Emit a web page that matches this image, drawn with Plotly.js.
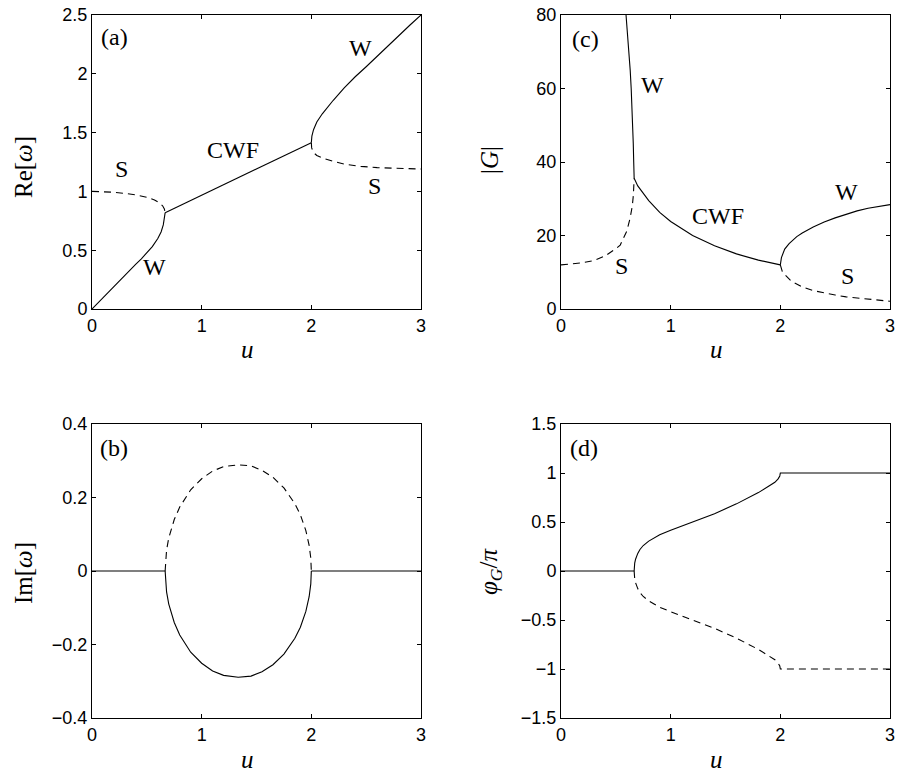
<!DOCTYPE html>
<html>
<head>
<meta charset="utf-8">
<script src="https://cdn.plot.ly/plotly-3.0.1.min.js"></script>
<style>html,body{margin:0;padding:0;background:#fff;}#chart{width:898px;height:772px;}</style>
</head>
<body>
<div id="chart"></div>
<script>
// ---------- Panel (a): Re[omega] ----------
var aW1_u  = [0, 0.1, 0.2, 0.3, 0.4, 0.45, 0.5, 0.55, 0.6, 0.63, 0.65, 0.66, 0.667];
var aW1_re = [0, 0.097, 0.194, 0.29, 0.382, 0.427, 0.475, 0.53, 0.6, 0.655, 0.715, 0.765, 0.819];
var aS1_u  = [0, 0.1, 0.2, 0.3, 0.4, 0.5, 0.57, 0.62, 0.645, 0.66, 0.667];
var aS1_re = [1.0, 0.998, 0.993, 0.983, 0.97, 0.95, 0.927, 0.9, 0.876, 0.85, 0.819];
var aC_u   = [0.667, 1.0, 1.333, 1.667, 2.0];
var aC_re  = [0.819, 0.968, 1.117, 1.266, 1.414];
var aW2_u  = [2.0, 2.005, 2.02, 2.05, 2.1, 2.15, 2.2, 2.3, 2.4, 2.5, 2.6, 2.7, 2.8, 2.9, 3.0];
var aW2_re = [1.414, 1.47, 1.525, 1.59, 1.66, 1.72, 1.775, 1.88, 1.975, 2.06, 2.15, 2.235, 2.33, 2.415, 2.5];
var aS2_u  = [2.0, 2.003, 2.02, 2.05, 2.1, 2.2, 2.3, 2.45, 2.6, 2.8, 3.0];
var aS2_re = [1.414, 1.37, 1.33, 1.305, 1.285, 1.255, 1.232, 1.213, 1.202, 1.195, 1.19];

// ---------- Panel (b): Im[omega] ----------
var bFlat1_u = [0, 0.667];
var bFlat1_im = [0, 0];
var bFlat2_u = [2.0, 3.0];
var bFlat2_im = [0, 0];
var bE_u     = [0.667, 0.67, 0.68, 0.7, 0.75, 0.8, 0.9, 1.0, 1.1, 1.2, 1.333, 1.45, 1.55, 1.65, 1.75, 1.85, 1.9, 1.95, 1.98, 1.995, 2.0];
var bUp_im   = [0, 0.028, 0.057, 0.09, 0.14, 0.174, 0.221, 0.251, 0.272, 0.284, 0.289, 0.286, 0.274, 0.255, 0.226, 0.183, 0.153, 0.11, 0.07, 0.035, 0];
var bLo_im   = [0, -0.028, -0.057, -0.09, -0.14, -0.174, -0.221, -0.251, -0.272, -0.284, -0.289, -0.286, -0.274, -0.255, -0.226, -0.183, -0.153, -0.11, -0.07, -0.035, 0];

// ---------- Panel (c): |G| ----------
var cW1_u = [0.593, 0.607, 0.62, 0.631, 0.64, 0.648, 0.654, 0.659, 0.663, 0.667];
var cW1_g = [80, 75, 70, 65, 60, 55, 50, 45, 40, 35.6];
var cS1_u = [0, 0.1, 0.2, 0.3, 0.4, 0.5, 0.54, 0.6, 0.63, 0.65, 0.66, 0.667];
var cS1_g = [12, 12.2, 12.6, 13.2, 14.4, 16.4, 17.4, 21.2, 24.7, 28, 31, 35.6];
var cC_u  = [0.667, 0.7, 0.8, 0.9, 1.0, 1.2, 1.4, 1.6, 1.8, 2.0];
var cC_g  = [35.6, 33.5, 29.5, 26.3, 23.8, 20.0, 17.2, 15.0, 13.3, 12.0];
var cW2_u = [2.0, 2.01, 2.04, 2.08, 2.15, 2.2, 2.3, 2.4, 2.5, 2.6, 2.7, 2.8, 2.9, 3.0];
var cW2_g = [12.0, 14.0, 16.3, 17.8, 19.7, 20.7, 22.3, 23.7, 24.8, 25.8, 26.7, 27.4, 27.9, 28.4];
var cS2_u = [2.0, 2.02, 2.1, 2.2, 2.3, 2.4, 2.5, 2.6, 2.8, 3.0];
var cS2_g = [12.0, 10.0, 7.6, 6.0, 5.0, 4.3, 3.8, 3.3, 2.7, 2.1];

// ---------- Panel (d): phi_G / pi ----------
var dFlat_u  = [0, 0.667];
var dFlat_p  = [0, 0];
var dB_u     = [0.667, 0.668, 0.672, 0.68, 0.69, 0.7, 0.72, 0.75, 0.8, 0.85, 0.9, 1.0, 1.2, 1.4, 1.6, 1.8, 1.9, 1.95, 1.98, 1.995, 2.0, 3.0];
var dUp_p    = [0, 0.04, 0.08, 0.12, 0.155, 0.18, 0.22, 0.26, 0.305, 0.34, 0.37, 0.415, 0.5, 0.585, 0.685, 0.8, 0.87, 0.905, 0.94, 0.97, 1.0, 1.0];
var dLo_p    = [0, -0.04, -0.08, -0.12, -0.155, -0.18, -0.22, -0.26, -0.305, -0.34, -0.37, -0.415, -0.5, -0.585, -0.685, -0.8, -0.87, -0.905, -0.94, -0.97, -1.0, -1.0];

// ---------- Tick labels ----------
var uTicks = [0, 1, 2, 3];
var aTicks = [0, 0.5, 1, 1.5, 2, 2.5];
var bTicks = [-0.4, -0.2, 0, 0.2, 0.4];
var cTicks = [0, 20, 40, 60, 80];
var dTicks = [-1.5, -1, -0.5, 0, 0.5, 1, 1.5];

var SOLID = {color: '#000', width: 1.1};
var DASH = {color: '#000', width: 1.1, dash: '7px,5px'};
function tr(x, y, xa, ya, line) {
  return {x: x, y: y, xaxis: xa, yaxis: ya, type: 'scatter', mode: 'lines', line: line, hoverinfo: 'none', showlegend: false};
}

var data = [
  tr(aS1_u, aS1_re, 'x', 'y', DASH),
  tr(aW1_u, aW1_re, 'x', 'y', SOLID),
  tr(aC_u, aC_re, 'x', 'y', SOLID),
  tr(aS2_u, aS2_re, 'x', 'y', DASH),
  tr(aW2_u, aW2_re, 'x', 'y', SOLID),

  tr(bE_u, bUp_im, 'x2', 'y2', DASH),
  tr(bE_u, bLo_im, 'x2', 'y2', SOLID),
  tr(bFlat1_u, bFlat1_im, 'x2', 'y2', SOLID),
  tr(bFlat2_u, bFlat2_im, 'x2', 'y2', SOLID),

  tr(cS1_u, cS1_g, 'x3', 'y3', DASH),
  tr(cW1_u, cW1_g, 'x3', 'y3', SOLID),
  tr(cC_u, cC_g, 'x3', 'y3', SOLID),
  tr(cS2_u, cS2_g, 'x3', 'y3', DASH),
  tr(cW2_u, cW2_g, 'x3', 'y3', SOLID),

  tr(dB_u, dLo_p, 'x4', 'y4', DASH),
  tr(dB_u, dUp_p, 'x4', 'y4', SOLID),
  tr(dFlat_u, dFlat_p, 'x4', 'y4', SOLID)
];

var W = 898, H = 772;
function px(v) { return v / W; }
function py(v) { return (H - v) / H; }
var colL = [px(92), px(421)], colR = [px(561), px(890)];
var rowT = [py(309), py(15)], rowB = [py(718), py(424)];

var tickFont = {family: 'Liberation Sans, Arial, sans-serif', size: 18, color: '#000'};
function xax(dom, anchor) {
  return {domain: dom, anchor: anchor, range: [0, 3], tickvals: uTicks, ticktext: uTicks.map(String),
    ticks: 'inside', ticklen: 4, tickwidth: 1, tickcolor: '#000', showline: true, linecolor: '#000', linewidth: 1,
    mirror: 'ticks', showgrid: false, zeroline: false, tickfont: tickFont, fixedrange: true};
}
function yax(dom, anchor, range, vals) {
  return {domain: dom, anchor: anchor, range: range, tickvals: vals, ticktext: vals.map(function(v){return String(v).replace('-', '\u2212');}),
    ticks: 'inside', ticklen: 4, tickwidth: 1, tickcolor: '#000', showline: true, linecolor: '#000', linewidth: 1,
    mirror: 'ticks', showgrid: false, zeroline: false, tickfont: tickFont, fixedrange: true};
}

var serif = 'Liberation Serif, Times New Roman, serif';
function lab(text, x, y, xr, yr, size) {
  return {text: text, x: x, y: y, xref: xr, yref: yr, showarrow: false, xanchor: 'center', yanchor: 'middle',
    font: {family: serif, size: size || 24, color: '#000'}};
}
function ptitle(text, x, y, angle) {
  return {text: text, x: px(x), y: py(y), xref: 'paper', yref: 'paper', showarrow: false, xanchor: 'center', yanchor: 'middle',
    textangle: angle || 0, font: {family: serif, size: 25, color: '#000'}};
}

var annotations = [
  // panel (a)
  lab('(a)', 0.205, 2.31, 'x', 'y'),
  lab('W', 2.45, 2.22, 'x', 'y'),
  lab('CWF', 1.29, 1.35, 'x', 'y'),
  lab('S', 0.266, 1.19, 'x', 'y'),
  lab('S', 2.58, 1.045, 'x', 'y'),
  lab('W', 0.572, 0.355, 'x', 'y'),
  // panel (b)
  lab('(b)', 0.205, 0.336, 'x2', 'y2'),
  // panel (c)
  lab('(c)', 0.22, 73.6, 'x3', 'y3'),
  lab('W', 0.83, 61, 'x3', 'y3'),
  lab('CWF', 1.43, 25.4, 'x3', 'y3'),
  lab('W', 2.6, 31.7, 'x3', 'y3'),
  lab('S', 0.55, 11.6, 'x3', 'y3'),
  lab('S', 2.61, 9.06, 'x3', 'y3'),
  // panel (d)
  lab('(d)', 0.214, 1.26, 'x4', 'y4'),
  // axis titles
  ptitle('Re[<i>ω</i>]', 23, 167, -90),
  ptitle('Im[<i>ω</i>]', 23, 573, -90),
  ptitle('|<i>G</i>|', 490, 160, -90),
  ptitle('<i>φ</i><sub><i>G</i></sub>/<i>π</i>', 490, 571, -90),
  ptitle('<i>u</i>', 247, 350),
  ptitle('<i>u</i>', 247, 759),
  ptitle('<i>u</i>', 716, 350),
  ptitle('<i>u</i>', 716, 759)
];

var layout = {
  width: W, height: H, margin: {l: 0, r: 0, t: 0, b: 0}, paper_bgcolor: '#fff', plot_bgcolor: '#fff',
  showlegend: false,
  xaxis: xax(colL, 'y'),
  yaxis: yax(rowT, 'x', [0, 2.5], aTicks),
  xaxis2: xax(colL, 'y2'),
  yaxis2: yax(rowB, 'x2', [-0.4, 0.4], bTicks),
  xaxis3: xax(colR, 'y3'),
  yaxis3: yax(rowT, 'x3', [0, 80], cTicks),
  xaxis4: xax(colR, 'y4'),
  yaxis4: yax(rowB, 'x4', [-1.5, 1.5], dTicks),
  annotations: annotations
};

Plotly.newPlot('chart', data, layout, {staticPlot: true, displayModeBar: false});
</script>
</body>
</html>
